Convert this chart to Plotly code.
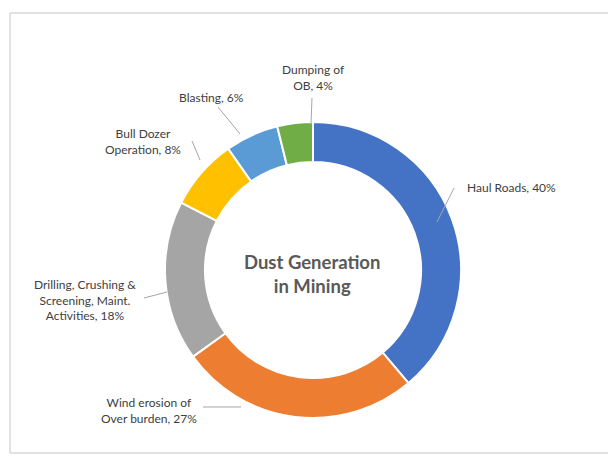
import plotly.graph_objects as go

# ---- data ----
categories = ["Haul Roads", "Wind erosion of Over burden",
              "Drilling, Crushing & Screening, Maint. Activities",
              "Bull Dozer Operation", "Blasting", "Dumping of OB"]
values = [40, 27, 18, 8, 6, 4]
label_texts = ["Haul Roads, 40%", "Wind erosion of<br>Over burden, 27%",
               "Drilling, Crushing &<br>Screening, Maint.<br>Activities, 18%",
               "Bull Dozer<br>Operation, 8%", "Blasting, 6%", "Dumping of<br>OB, 4%"]
colors = ["#4472C4", "#ED7D31", "#A5A5A5", "#FFC000", "#5B9BD5", "#70AD47"]
center_title = "Dust Generation<br>in Mining"

W, H = 608, 459
cx, cy, R = 313, 270, 148

def px(x):
    return x / W

def py(y):
    return 1 - y / H

fig = go.Figure(go.Pie(
    labels=categories, values=values, sort=False, direction="clockwise",
    rotation=0, hole=0.73, textinfo="none", hoverinfo="label+percent",
    marker=dict(colors=colors, line=dict(color="white", width=2)),
    domain=dict(x=[px(cx - R), px(cx + R)], y=[py(cy + R), py(cy - R)]),
    showlegend=False,
))

# label text centres and leader lines (pixel layout positions)
label_pos = [(511, 188), (149, 410), (85, 300), (143, 141), (212, 97), (313, 77)]
leaders = [((454, 188), (437, 222)), ((203, 407), (241, 407)),
           ((144, 298), (167, 292)), ((192, 141), (200, 160)),
           ((218, 107), (240, 134)), ((312, 98), (311, 123))]

annotations = []
for txt, (x, y) in zip(label_texts, label_pos):
    annotations.append(dict(x=px(x), y=py(y), xref="paper", yref="paper",
                            text=txt, showarrow=False, xanchor="center", yanchor="middle",
                            font=dict(family="Lato, sans-serif", size=12, color="#404040")))
annotations.append(dict(x=px(cx - 1), y=py(274), xref="paper", yref="paper",
                        text="<b>" + center_title.replace("<br>", "</b><br><b>") + "</b>",
                        showarrow=False, xanchor="center", yanchor="middle",
                        font=dict(family="Lato, sans-serif", size=18.5, color="#595959")))

shapes = []
for (a, b) in leaders:
    shapes.append(dict(type="line", xref="paper", yref="paper",
                       x0=px(a[0]), y0=py(a[1]), x1=px(b[0]), y1=py(b[1]),
                       line=dict(color="#A6A6A6", width=1)))
# chart frame
for (x0, y0, x1, y1) in [(10, 13, 608, 13), (10, 13, 10, 453), (10, 453, 608, 453)]:
    shapes.append(dict(type="line", xref="paper", yref="paper",
                       x0=px(x0), y0=py(y0), x1=px(x1), y1=py(y1),
                       line=dict(color="#D9D9D9", width=1.5)))

fig.update_layout(width=W, height=H, margin=dict(l=0, r=0, t=0, b=0),
                  paper_bgcolor="white", plot_bgcolor="white",
                  annotations=annotations, shapes=shapes)

fig.write_html("out.html")
